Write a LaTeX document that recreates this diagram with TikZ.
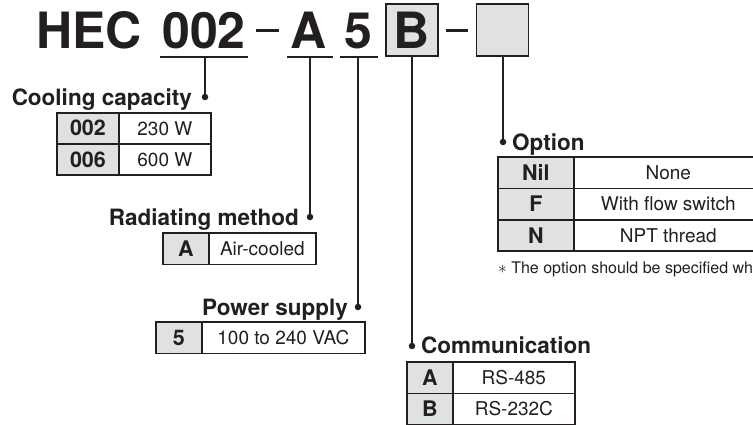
\documentclass[tikz,border=0pt]{standalone}
\usepackage{fontspec}
\setmainfont{TeX Gyre Heros}
\definecolor{ink}{RGB}{35,31,32}
\definecolor{keyfill}{RGB}{224,225,227}
\tikzset{
  titletext/.style={font=\fontsize{50}{50}\selectfont\bfseries, text=ink, inner sep=0},
  head/.style={font=\fontsize{22.5}{22.5}\selectfont\bfseries, text=ink, inner sep=0},
  keycell/.style={draw=ink, line width=0.9, fill=keyfill, minimum height=30.5, inner sep=0,
    text height=15.4, text depth=0, font=\fontsize{21.5}{21.5}\selectfont\bfseries, text=ink, anchor=north west},
  valcell/.style={draw=ink, line width=0.9, fill=white, minimum height=30.5, inner sep=0,
    text height=13.7, text depth=0, font=\fontsize{19}{19}\selectfont, text=ink, anchor=north west},
  outer/.style={draw=ink, line width=1.5},
  conn/.style={draw=ink, line width=1.5},
  uline/.style={draw=ink, line width=1.9},
  dashline/.style={draw=ink, line width=3.5},
  dotmark/.style={circle, fill=ink, inner sep=0, minimum size=6.5},
  codebox/.style={draw=ink, line width=1.9, fill=keyfill, minimum width=52, minimum height=52, inner sep=0},
  notetext/.style={font=\fontsize{16}{16}\selectfont, text=ink, inner sep=0}
}
\begin{document}
\begin{tikzpicture}[x=1pt,y=-1pt]
\clip (0,0) rectangle (753,424);
\fill[white] (0,0) rectangle (753,424);

% ---- model code ----
\node[titletext, anchor=base west] (hec) at (36,48) {HEC};
\node[titletext, anchor=base] (c002) at (204,48) {002};
\coordinate (u002a) at (160,57); \coordinate (u002b) at (248,57);
\draw[uline] (u002a) -- (u002b);
\coordinate (d1a) at (256,30.5); \coordinate (d1b) at (279,30.5);
\draw[dashline] (d1a) -- (d1b);
\node[titletext, anchor=base] (cA) at (308.5,48) {A};
\coordinate (uAa) at (287,57); \coordinate (uAb) at (333,57);
\draw[uline] (uAa) -- (uAb);
\node[titletext, anchor=base] (c5) at (358,48) {5};
\coordinate (u5a) at (340,57); \coordinate (u5b) at (378,57);
\draw[uline] (u5a) -- (u5b);
\node[codebox] (cB) at (412,30) {};
\node[titletext, anchor=base] (cBt) at (412,48) {B};
\coordinate (d2a) at (446,30.5); \coordinate (d2b) at (468,30.5);
\draw[dashline] (d2a) -- (d2b);
\node[codebox] (cOpt) at (502.5,30) {};

% ---- connector foot points ----
\coordinate (f002) at (205,57);
\coordinate (fA) at (310,57);
\coordinate (f5) at (358,57);
\coordinate (fB) at (412,56);
\coordinate (fOpt) at (503,56);

% ---- dots ----
\node[dotmark] (dcool) at (205,97) {};
\node[dotmark] (drad) at (310,217) {};
\node[dotmark] (dpow) at (358,307) {};
\node[dotmark] (dopt) at (503,142) {};
\node[dotmark] (dcom) at (412,346) {};

\draw[conn] (f002) -- (dcool.center);
\draw[conn] (fA) -- (drad.center);
\draw[conn] (f5) -- (dpow.center);
\draw[conn] (fB) -- (dcom.center);
\draw[conn] (fOpt) -- (dopt.center);

% ---- headings ----
\node[head, anchor=base east] (hcool) at (192,105) {Cooling capacity};
\node[head, anchor=base east] (hrad) at (299,225) {Radiating method};
\node[head, anchor=base east] (hpow) at (348,315) {Power supply};
\node[head, anchor=base west] (hopt) at (512,150) {Option};
\node[head, anchor=base west] (hcom) at (421,353) {Communication};

% ---- cooling capacity table ----
\node[keycell, minimum width=61] (cc1k) at (57,112.5) {002};
\node[valcell, minimum width=91] (cc1v) at (cc1k.north east) {230 W};
\node[keycell, minimum width=61] (cc2k) at (cc1k.south west) {006};
\node[valcell, minimum width=91] (cc2v) at (cc2k.north east) {600 W};
\draw[outer] (cc1k.north west) rectangle (cc2v.south east);

% ---- radiating method table ----
\node[keycell, minimum width=45] (rm1k) at (163,233) {A};
\node[valcell, minimum width=106] (rm1v) at (rm1k.north east) {Air-cooled};
\draw[outer] (rm1k.north west) rectangle (rm1v.south east);

% ---- power supply table ----
\node[keycell, minimum width=45] (ps1k) at (156,322) {5};
\node[valcell, minimum width=162] (ps1v) at (ps1k.north east) {100 to 240 VAC};
\draw[outer] (ps1k.north west) rectangle (ps1v.south east);

% ---- option table ----
\node[keycell, minimum width=75] (op1k) at (498,157) {Nil};
\node[valcell, minimum width=188] (op1v) at (op1k.north east) {None};
\node[keycell, minimum width=75] (op2k) at (op1k.south west) {F};
\node[valcell, minimum width=188] (op2v) at (op2k.north east) {With flow switch};
\node[keycell, minimum width=75] (op3k) at (op2k.south west) {N};
\node[valcell, minimum width=188] (op3v) at (op3k.north east) {NPT thread};
\draw[outer] (op1k.north west) rectangle (op3v.south east);
\node[notetext, anchor=base west] (note) at (498,273) {$\ast$ The option should be specified wh};

% ---- communication table ----
\node[keycell, minimum width=45] (cm1k) at (407,362) {A};
\node[valcell, minimum width=121] (cm1v) at (cm1k.north east) {RS-485};
\node[keycell, minimum width=45] (cm2k) at (cm1k.south west) {B};
\node[valcell, minimum width=121] (cm2v) at (cm2k.north east) {RS-232C};
\draw[outer] (cm1k.north west) rectangle (cm2v.south east);
\end{tikzpicture}
\end{document}
